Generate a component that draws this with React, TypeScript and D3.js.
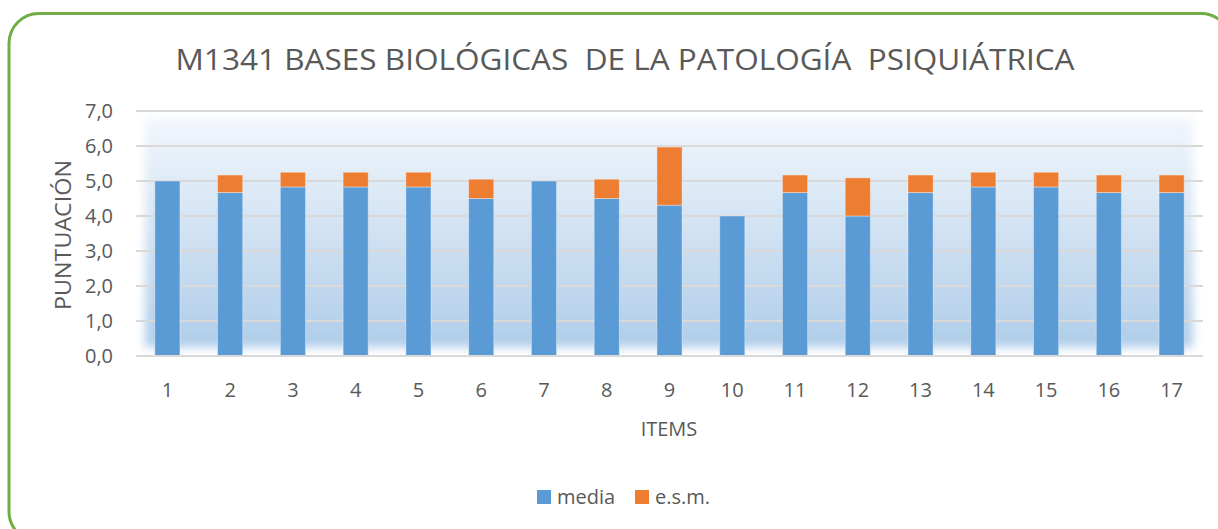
import React from "react";
import * as d3 from "d3";

const items = ["1","2","3","4","5","6","7","8","9","10","11","12","13","14","15","16","17"];
const media = [5.0,4.67,4.83,4.83,4.83,4.5,5.0,4.5,4.31,4.0,4.67,4.0,4.67,4.83,4.83,4.67,4.67];
const esm = [0,0.5,0.42,0.42,0.42,0.55,0,0.55,1.66,0,0.5,1.09,0.5,0.42,0.42,0.5,0.5];
const yTicks = [0,1,2,3,4,5,6,7];
const seriesNames = ["media","e.s.m."];
const colors = ["#5B9BD5","#ED7D31"];

const W = 1218, H = 529;
const margin = { top: 111, left: 136, right: 15, bottom: 173 };
const font = "'Open Sans', 'Liberation Sans', sans-serif";
const txt = "#595959";

const App = () => {
  const x = d3.scaleBand().domain(items).range([margin.left, W - margin.right]).paddingInner(0.6).paddingOuter(0.3);
  const y = d3.scaleLinear().domain([0, 7]).range([H - margin.bottom, margin.top]);
  const rows = items.map((k, i) => ({ key: k, media: media[i], esm: esm[i] }));
  const stack = d3.stack<any>().keys(["media", "esm"])(rows);
  const fmt = (v: number) => d3.format(".1f")(v).replace(".", ",");
  const x0 = margin.left, x1 = W - margin.right;

  return (
    <svg width={W} height={H} style={{ position: "absolute", left: 0, top: 0, background: "#fff" }}>
      <defs>
        <linearGradient id="bg" x1="0" y1="0" x2="0" y2="1">
          <stop offset="0%" stopColor="#F2F6FC" />
          <stop offset="100%" stopColor="#AFCDE9" />
        </linearGradient>
        <filter id="blur" x="-5%" y="-10%" width="110%" height="120%">
          <feGaussianBlur stdDeviation="5" />
        </filter>
      </defs>
      <rect x={9} y={13.5} width={1222} height={528} rx={30} fill="#fff" stroke="#70AD47" strokeWidth={3} />
      <text x={625} y={70} textAnchor="middle" fontFamily={font} fontSize={29} fill={txt} style={{ whiteSpace: "pre" }}
        textLength={899} lengthAdjust="spacingAndGlyphs">M1341 BASES BIOLÓGICAS  DE LA PATOLOGÍA  PSIQUIÁTRICA</text>
      <rect x={145} y={y(6.8)} width={1048} height={y(0.25) - y(6.8)} fill="url(#bg)" filter="url(#blur)" />
      {yTicks.map(t => (
        <g key={t}>
          <line x1={x0} x2={x1} y1={y(t)} y2={y(t)} stroke="#D9D9D9" strokeWidth={2} />
          <text x={113} y={y(t) + 7} textAnchor="end" fontFamily={font} fontSize={20} fill={txt}>{fmt(t)}</text>
        </g>
      ))}
      {stack.map((s, si) => (
        <g key={si} fill={colors[si]}>
          {s.map((d: any, i: number) => d[1] - d[0] > 0 ? (
            <rect key={i} x={x(items[i])} width={x.bandwidth()} y={y(d[1])} height={y(d[0]) - y(d[1])}
              stroke="rgba(255,255,255,0.35)" strokeWidth={1} />
          ) : null)}
        </g>
      ))}
      <line x1={x0} x2={x1} y1={y(0)} y2={y(0)} stroke="#D9D9D9" strokeWidth={2} />
      {items.map(k => (
        <text key={k} x={(x(k) as number) + x.bandwidth() / 2} y={397} textAnchor="middle" fontFamily={font} fontSize={20} fill={txt}>{k}</text>
      ))}
      <text x={669} y={436} textAnchor="middle" fontFamily={font} fontSize={20} fill={txt}>ITEMS</text>
      <text transform={`translate(71,${235}) rotate(-90)`} textAnchor="middle" fontFamily={font} fontSize={22} fill={txt}
        textLength={150} lengthAdjust="spacingAndGlyphs">PUNTUACIÓN</text>
      {seriesNames.map((n, i) => (
        <g key={n} transform={`translate(${i === 0 ? 537 : 635},0)`}>
          <rect x={0} y={490} width={14} height={14} fill={colors[i]} />
          <text x={20} y={504} fontFamily={font} fontSize={20} fill={txt}>{n}</text>
        </g>
      ))}
    </svg>
  );
};

export default App;
